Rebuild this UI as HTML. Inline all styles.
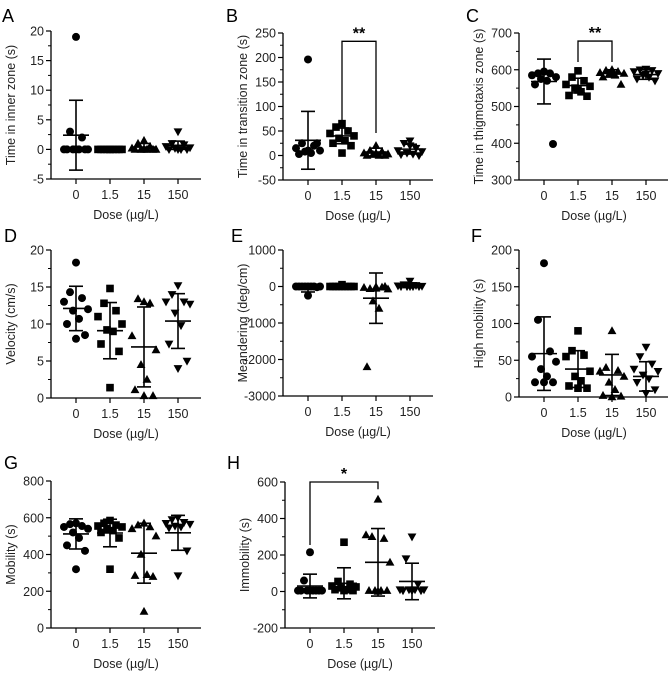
<!DOCTYPE html>
<html><head><meta charset="utf-8"><style>
html,body{margin:0;padding:0;background:#fff;}
svg{display:block;font-family:"Liberation Sans",Arial,sans-serif;}
</style></head><body>
<svg id="chart" width="668" height="675" viewBox="0 0 668 675"></svg>
<script>
const categories = ["0","1.5","15","150"];
const shapes = ["circle","square","up","down"];

const aVals = [[19,3,2,0,0,0,0,0,0,0],[0,0,0,0,0,0,0,0,0,0],[1.5,1,0.5,0.2,0,0,0,0,0,0],[3,1,0.8,0.5,0.3,0.2,0,0,0,0]];
const aMean = [2.4,0.05,0.4,0.7]; const aSd = [5.9,0.1,0.6,0.7];
const bVals = [[196,25,20,15,10,8,5,3,25,10],[65,58,50,45,40,35,30,25,20,5],[20,10,8,5,3,2,0,0,0,5],[30,25,15,10,8,5,3,2,0,20]];
const bMean = [31,40,7,13]; const bSd = [59,16,8,10];
const cVals = [[595,590,590,585,580,575,570,560,398,595],[597,580,570,560,555,550,540,530,528,545],[600,598,595,592,590,588,585,580,560,590],[602,600,598,595,590,585,580,575,570,588]];
const cMean = [568,557,590,587]; const cSd = [61,20,10,13];
const dVals = [[18.3,14.3,13.5,13,12,11.8,10.7,10,8.5,8],[14.8,12.8,11.8,11,10,9.2,9,7.3,6.3,1.4],[13,13.4,12.8,8.4,6.5,4.5,2.5,1.1,0.3,0.3],[15.2,14,13,13,12.7,11.5,9.8,7.3,5,4]];
const dMean = [12.1,9.1,6.9,10.4]; const dSd = [3,3.8,5.4,3.7];
const eVals = [[0,0,0,0,0,0,0,0,-20,-250],[50,0,0,0,0,0,0,0,0,0],[-50,-60,-20,-30,-70,-400,-600,-2200,0,-10],[150,50,30,20,10,0,0,0,0,0]];
const eMean = [-50,10,-320,40]; const eSd = [100,60,690,60];
const fVals = [[182,105,62,55,48,38,28,20,20,20],[90,63,57,55,35,28,22,15,12,12],[90,40,36,35,28,20,10,2,1,0],[68,55,45,38,35,30,25,20,10,5]];
const fMean = [59,38,30,28]; const fSd = [50,25,28,20];
const gVals = [[570,565,555,550,540,520,490,450,420,320],[585,570,560,555,550,540,530,520,490,320],[570,560,550,540,500,400,290,285,280,90],[600,590,575,570,565,555,550,545,420,285]];
const gMean = [512,517,407,518]; const gSd = [82,75,163,95];
const hVals = [[215,60,5,5,5,5,5,5,5,5],[270,55,40,30,25,20,10,10,5,5],[505,300,290,310,160,5,5,5,5,0],[300,180,40,10,10,10,10,5,5,5]];
const hMean = [30,45,160,55]; const hSd = [65,85,185,100];

const NS="http://www.w3.org/2000/svg";
const svg=document.getElementById('chart');
function mk(tag,attrs,parent){const e=document.createElementNS(NS,tag);for(const k in attrs)e.setAttribute(k,attrs[k]);(parent||svg).appendChild(e);return e;}

const panels=[
 {id:"a",letter:"A",lx:2,ly:22,ax:51,yT:31,yB:179,min:-5,max:20,step:5,title:"Time in inner zone (s)",vals:aVals,mean:aMean,sd:aSd},
 {id:"b",letter:"B",lx:226,ly:22,ax:283,yT:33,yB:180,min:-50,max:250,step:50,title:"Time in transition zone (s)",vals:bVals,mean:bMean,sd:bSd,sig:{i:1,j:2,y:233,li:72,lj:46,t:"**"}},
 {id:"c",letter:"C",lx:466,ly:22,ax:519,yT:33,yB:180,min:300,max:700,step:100,title:"Time in thigmotaxis zone (s)",vals:cVals,mean:cMean,sd:cSd,sig:{i:1,j:2,y:678,li:621,lj:621,t:"**"}},
 {id:"d",letter:"D",lx:4,ly:242,ax:51,yT:250,yB:398,min:0,max:20,step:5,title:"Velocity (cm/s)",vals:dVals,mean:dMean,sd:dSd},
 {id:"e",letter:"E",lx:231,ly:242,ax:283,yT:250,yB:396,min:-3000,max:1000,step:1000,title:"Meandering (deg/cm)",vals:eVals,mean:eMean,sd:eSd},
 {id:"f",letter:"F",lx:471,ly:242,ax:519,yT:250,yB:397,min:0,max:200,step:50,title:"High mobility (s)",vals:fVals,mean:fMean,sd:fSd},
 {id:"g",letter:"G",lx:4,ly:469,ax:51,yT:481,yB:628,min:0,max:800,step:200,title:"Mobility (s)",vals:gVals,mean:gMean,sd:gSd},
 {id:"h",letter:"H",lx:227,ly:469,ax:285,yT:482,yB:628,min:-200,max:600,step:200,title:"Immobility (s)",vals:hVals,mean:hMean,sd:hSd,sig:{i:0,j:2,y:600,li:255,lj:560,t:"*"}}
];
const jit=[0,-6,6,-12,12,-3,3,-9,9,0];

function marker(g,shape,x,y){
  let e;
  if(shape==="circle") e=mk("circle",{cx:x,cy:y,r:4,fill:"#000"},g);
  else if(shape==="square") e=mk("rect",{x:x-3.8,y:y-3.8,width:7.6,height:7.6,fill:"#000"},g);
  else if(shape==="up") e=mk("polygon",{points:`${x},${y-4.6} ${x-4.4},${y+3.3} ${x+4.4},${y+3.3}`,fill:"#000"},g);
  else e=mk("polygon",{points:`${x},${y+4.6} ${x-4.4},${y-3.3} ${x+4.4},${y-3.3}`,fill:"#000"},g);
  return e;
}

panels.forEach(p=>{
  const g=mk("g",{});
  
  
  const Y=v=>p.yB-(v-p.min)/(p.max-p.min)*(p.yB-p.yT);
  const X=i=>p.ax+25+i*34;
  const L=mk("text",{x:p.lx,y:p.ly,"font-size":18,fill:"#000"},g);L.textContent=p.letter;
  
  
  const ya=mk("line",{x1:p.ax,y1:p.yT,x2:p.ax,y2:p.yB+0.5,stroke:"#000","stroke-width":1.3},g);
  
  
  const xa=mk("line",{x1:p.ax,y1:p.yB,x2:p.ax+150,y2:p.yB,stroke:"#000","stroke-width":1.3},g);
  
  
  for(let v=p.min;v<=p.max+1e-9;v+=p.step){
    const y=Y(v);
    mk("line",{x1:p.ax-5,y1:y,x2:p.ax,y2:y,stroke:"#000","stroke-width":1.2},g);
    const t=mk("text",{x:p.ax-7,y:y+4.5,"font-size":12.5,"text-anchor":"end",fill:"#222"},g);t.textContent=v;
    
    
    if(v+p.step/2<p.max){const ym=Y(v+p.step/2);mk("line",{x1:p.ax-3,y1:ym,x2:p.ax,y2:ym,stroke:"#000","stroke-width":1},g);}
  }
  const cy=(p.yT+p.yB)/2, tx=p.ax-36;
  const yt=mk("text",{x:tx,y:cy,"font-size":12.5,"text-anchor":"middle",transform:`rotate(-90 ${tx} ${cy})`,fill:"#222"},g);yt.textContent=p.title;
  
  
  const xt=mk("text",{x:p.ax+75,y:p.yB+40,"font-size":12.5,"text-anchor":"middle",fill:"#222"},g);xt.textContent="Dose (\u00b5g/L)";
  
  
  categories.forEach((c,i)=>{
    const x=X(i);
    mk("line",{x1:x,y1:p.yB,x2:x,y2:p.yB+5,stroke:"#000","stroke-width":1.2},g);
    const t=mk("text",{x:x,y:p.yB+20,"font-size":12.5,"text-anchor":"middle",fill:"#222"},g);t.textContent=c;
    
    
    const sg=mk("g",{},g);
    
    
    p.vals[i].forEach((v,k)=>{
      const m=marker(sg,shapes[i],x+jit[k%jit.length],Y(v));
      
      
    });
    const mu=p.mean[i],s=p.sd[i];
    const st={stroke:"#000","stroke-width":1.6};
    const eb=mk("g",{},g);
    
    
    mk("line",Object.assign({x1:x,y1:Y(mu+s),x2:x,y2:Y(mu-s)},st),eb);
    mk("line",Object.assign({x1:x-7,y1:Y(mu+s),x2:x+7,y2:Y(mu+s)},st),eb);
    mk("line",Object.assign({x1:x-7,y1:Y(mu-s),x2:x+7,y2:Y(mu-s)},st),eb);
    mk("line",Object.assign({x1:x-13,y1:Y(mu),x2:x+13,y2:Y(mu)},st),eb);
  });
  if(p.sig){
    const s=p.sig;
    const pl=mk("polyline",{points:`${X(s.i)},${Y(s.li)} ${X(s.i)},${Y(s.y)} ${X(s.j)},${Y(s.y)} ${X(s.j)},${Y(s.lj)}`,fill:"none",stroke:"#000","stroke-width":1.3},g);
    
    
    const t=mk("text",{x:(X(s.i)+X(s.j))/2,y:Y(s.y)-3,"font-size":16,"font-weight":"bold","text-anchor":"middle",fill:"#000"},g);t.textContent=s.t;
    
    
  }
});
</script>
</body></html>
